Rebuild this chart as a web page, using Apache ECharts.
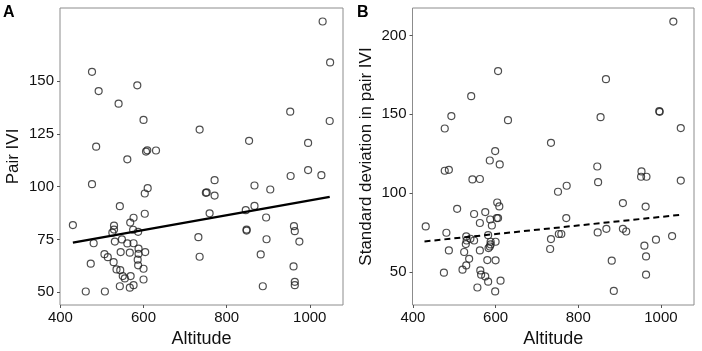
<!DOCTYPE html>
<html>
<head>
<meta charset="utf-8">
<script src="https://cdn.jsdelivr.net/npm/echarts@6/dist/echarts.min.js"></script>
<style>
  html, body { margin: 0; padding: 0; background: #fff; }
  #chart { width: 702px; height: 351px; }
</style>
</head>
<body>
<div id="chart"></div>
<script>
// panel A: altitude vs pair IVI
var altA = [1031, 1049, 476, 492, 585, 540, 600, 735, 953, 1048,
  486, 561, 606, 609, 630, 854, 996, 996, 954, 1028,
  476, 610, 603, 771, 750, 752, 771, 867, 905, 543,
  603, 430, 529, 529, 576, 568, 575, 587, 525, 480,
  531, 548, 561, 576, 545, 567, 588, 588, 604, 506,
  514, 528, 586, 587, 600, 473, 535, 544, 550, 555,
  569, 600, 543, 567, 576, 461, 507, 732, 735, 759,
  846, 867, 895, 848, 848, 962, 964, 896, 975, 882,
  961, 887, 964, 964]
var pairIvi = [178.4, 159.0, 154.5, 145.4, 148.1, 139.4, 131.7, 127.1, 135.6, 131.2,
  119.0, 113.0, 116.7, 117.3, 117.2, 121.8, 120.8, 107.9, 105.1, 105.5,
  101.2, 99.3, 96.8, 103.1, 97.1, 97.3, 95.8, 100.6, 98.7, 90.8,
  87.2, 81.8, 81.6, 79.7, 85.3, 83.0, 79.6, 78.6, 78.2, 73.2,
  74.0, 75.0, 73.1, 73.2, 69.0, 68.7, 70.6, 68.2, 69.0, 68.0,
  66.6, 64.2, 65.4, 62.7, 61.1, 63.5, 60.8, 60.4, 57.6, 56.5,
  57.6, 56.0, 52.8, 52.1, 53.3, 50.3, 50.3, 76.1, 66.8, 87.4,
  88.9, 90.9, 85.4, 79.7, 79.2, 81.3, 78.9, 75.1, 74.0, 67.9,
  62.2, 52.8, 54.9, 53.3]
var fitA = [[430, 73.5], [1048, 95.2]]

// panel B: altitude vs standard deviation in pair IVI
var altB = [1030, 606, 867, 541, 493, 477, 630, 854, 996, 997,
  1048, 734, 599, 586, 610, 846, 477, 487, 953, 952,
  965, 1048, 848, 772, 751, 544, 562, 604, 609, 507,
  548, 575, 562, 587, 603, 606, 591, 431, 481, 529,
  530, 539, 548, 528, 582, 588, 600, 588, 586, 583,
  562, 487, 524, 536, 580, 600, 529, 520, 475, 563,
  565, 575, 582, 612, 556, 599, 771, 908, 963, 847,
  868, 908, 916, 753, 759, 734, 732, 1027, 988, 960,
  964, 881, 964, 886]
var sdIvi = [208.8, 177.4, 172.3, 161.5, 148.9, 141.0, 146.3, 148.2, 152.0, 151.6,
  141.3, 131.9, 126.7, 120.7, 118.2, 116.9, 114.2, 114.8, 113.8, 110.4,
  110.4, 108.0, 107.0, 104.7, 100.9, 108.7, 109.0, 94.1, 91.6, 90.1,
  86.8, 88.0, 81.1, 83.3, 84.2, 84.2, 79.5, 78.9, 74.9, 72.6,
  70.0, 71.1, 70.0, 67.7, 73.4, 69.2, 69.2, 67.5, 66.2, 65.2,
  63.7, 63.7, 62.7, 58.4, 57.6, 57.4, 54.2, 51.5, 49.6, 51.0,
  48.3, 47.2, 43.9, 44.5, 40.2, 37.7, 84.2, 93.7, 91.5, 75.1,
  77.4, 77.4, 75.7, 74.1, 74.1, 70.9, 64.6, 72.8, 70.5, 66.7,
  59.9, 57.2, 48.3, 38.0]
var fitB = [[428, 69.4], [1049, 86.3]]

var xTicks = [400, 600, 800, 1000]
var yTicksA = [50, 75, 100, 125, 150]
var yTicksB = [50, 100, 150, 200]

var font = 'Liberation Sans, Arial, Helvetica, sans-serif'
var textColor = '#111'
var frameColor = '#8c8c8c'

function zip(xs, ys) {
  return xs.map(function (x, i) { return [x, ys[i]] })
}

function plain(v) { return String(v) }

function xAxisOf(idx) {
  return {
    gridIndex: idx,
    type: 'value',
    min: 399,
    max: 1080,
    name: 'Altitude',
    nameLocation: 'middle',
    nameGap: 22,
    nameTextStyle: { fontFamily: font, fontSize: 18, color: textColor },
    axisLine: { show: false },
    axisTick: { show: true, length: 3, lineStyle: { color: '#555' }, customValues: xTicks },
    axisLabel: { fontFamily: font, fontSize: 15, color: textColor, margin: 5, formatter: plain, customValues: xTicks },
    splitLine: { show: false }
  }
}

function yAxisOf(idx, name, min, max, ticks) {
  return {
    gridIndex: idx,
    type: 'value',
    min: min,
    max: max,
    name: name,
    nameLocation: 'middle',
    nameGap: 38,
    nameTextStyle: { fontFamily: font, fontSize: 17, color: textColor },
    axisLine: { show: false },
    axisTick: { show: true, length: 3, lineStyle: { color: '#555' }, customValues: ticks },
    axisLabel: { fontFamily: font, fontSize: 15, color: textColor, margin: 6, formatter: plain, customValues: ticks },
    splitLine: { show: false }
  }
}

var pointStyle = {
  color: 'rgba(0,0,0,0)',
  borderColor: '#222',
  borderWidth: 1.2
}

var chart = echarts.init(document.getElementById('chart'))
chart.setOption({
  animation: false,
  backgroundColor: '#fff',
  title: [
    { text: 'A', left: 3, top: 5, padding: 0, textStyle: { fontFamily: font, fontSize: 16, fontWeight: 'bold', color: '#000' } },
    { text: 'B', left: 357, top: 5, padding: 0, textStyle: { fontFamily: font, fontSize: 16, fontWeight: 'bold', color: '#000' } }
  ],
  grid: [
    { left: 60, right: 359, top: 8, bottom: 46, show: true, borderColor: frameColor, borderWidth: 1, outerBoundsMode: 'none' },
    { left: 412.5, right: 8, top: 8, bottom: 46, show: true, borderColor: frameColor, borderWidth: 1, outerBoundsMode: 'none' }
  ],
  xAxis: [xAxisOf(0), xAxisOf(1)],
  yAxis: [
    yAxisOf(0, 'Pair IVI', 43.9, 184.8, yTicksA),
    yAxisOf(1, 'Standard deviation in pair IVI', 29.1, 217.4, yTicksB)
  ],
  series: [
    {
      type: 'scatter', xAxisIndex: 0, yAxisIndex: 0,
      symbol: 'circle', symbolSize: 7,
      itemStyle: pointStyle,
      data: zip(altA, pairIvi)
    },
    {
      type: 'line', xAxisIndex: 0, yAxisIndex: 0,
      symbol: 'none',
      lineStyle: { color: '#000', width: 2.5 },
      data: fitA
    },
    {
      type: 'scatter', xAxisIndex: 1, yAxisIndex: 1,
      symbol: 'circle', symbolSize: 7,
      itemStyle: pointStyle,
      data: zip(altB, sdIvi)
    },
    {
      type: 'line', xAxisIndex: 1, yAxisIndex: 1,
      symbol: 'none',
      lineStyle: { color: '#000', width: 2, type: [6, 4] },
      data: fitB
    }
  ]
})
</script>
</body>
</html>
